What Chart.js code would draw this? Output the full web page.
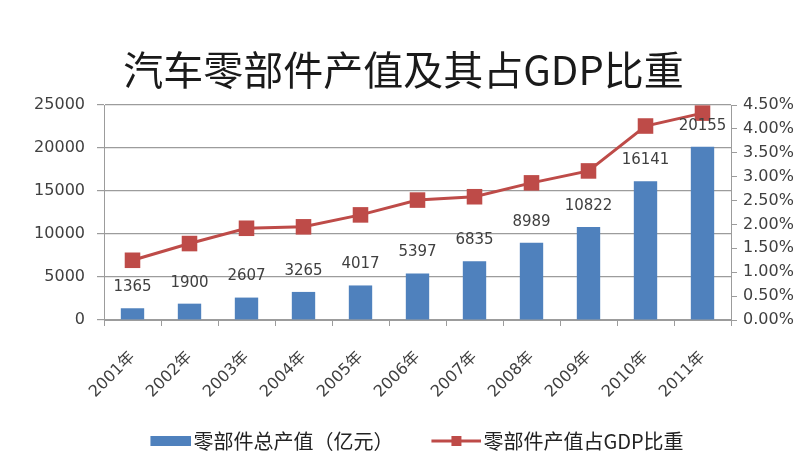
<!DOCTYPE html>
<html>
<head>
<meta charset="utf-8">
<script src="https://cdn.jsdelivr.net/npm/chart.js@4.4.1/dist/chart.umd.min.js"></script>
<style>
  html, body { margin: 0; padding: 0; background: #fff; }
  #wrap { width: 807px; height: 461px; }
</style>
</head>
<body>
<div id="wrap"><canvas id="chart" width="807" height="461"></canvas></div>
<script>
// data
var years = ['2001年', '2002年', '2003年', '2004年', '2005年', '2006年', '2007年', '2008年', '2009年', '2010年', '2011年'];
var output = [1365, 1900, 2607, 3265, 4017, 5397, 6835, 8989, 10822, 16141, 20155];
var gdpShare = [1.25, 1.60, 1.92, 1.95, 2.20, 2.51, 2.58, 2.87, 3.12, 4.06, 4.33];
var leftTicks = [0, 5000, 10000, 15000, 20000, 25000];
var rightTicks = [0, 0.5, 1, 1.5, 2, 2.5, 3, 3.5, 4, 4.5];

var barColor = '#4F81BD';
var lineColor = '#BE4B48';
var gridColor = '#9C9C9C';
var textColor = '#404040';
var numFont = 'DejaVu Sans, sans-serif';
var cjkFont = '"Noto Sans CJK SC", sans-serif';

// legend symbols as little canvases
function legendIcon(kind){
    var c = document.createElement('canvas');
    c.width = 76; c.height = 14;
    var g = c.getContext('2d');
    if(kind === 'bar'){
        g.fillStyle = barColor;
        g.fillRect(35, 2, 41, 10);
    }else{
        g.strokeStyle = lineColor;
        g.lineWidth = 3;
        g.beginPath(); g.moveTo(26, 7); g.lineTo(76, 7); g.stroke();
        g.fillStyle = lineColor;
        g.fillRect(46, 2, 10, 10);
    }
    return c;
}
var barIcon = legendIcon('bar');
var lineIcon = legendIcon('line');

var valueLabels = {
    id: 'valueLabels',
    afterDatasetsDraw: function(chart){
        var ctx = chart.ctx;
        var meta = chart.getDatasetMeta(0);
        ctx.save();
        ctx.font = '15px ' + numFont;
        ctx.fillStyle = textColor;
        ctx.textAlign = 'center';
        ctx.textBaseline = 'middle';
        meta.data.forEach(function(bar, i){
            ctx.fillText(String(output[i]), bar.x, bar.y - 21);
        });
        ctx.restore();
    }
};

var ctx = document.getElementById('chart').getContext('2d');
var myChart = new Chart(ctx, {
    type: 'bar',
    data: {
        labels: years,
        datasets: [
            {
                type: 'bar',
                label: '零部件总产值（亿元）',
                data: output,
                backgroundColor: barColor,
                barPercentage: 0.41,
                categoryPercentage: 1,
                yAxisID: 'y',
                order: 2
            },
            {
                type: 'line',
                label: '零部件产值占GDP比重',
                data: gdpShare,
                borderColor: lineColor,
                backgroundColor: lineColor,
                borderWidth: 3,
                pointStyle: 'rect',
                pointRadius: 11,
                pointBorderWidth: 0,
                tension: 0,
                yAxisID: 'y1',
                order: 1
            }
        ]
    },
    options: {
        responsive: false,
        animation: false,
        layout: { padding: { left: 0, right: 0, top: 0, bottom: 0 } },
        plugins: {
            title: {
                display: true,
                text: '汽车零部件产值及其占GDP比重',
                color: '#1a1a1a',
                font: { family: cjkFont, size: 40, weight: 'normal' },
                padding: { top: 46, bottom: 11 }
            },
            legend: {
                position: 'bottom',
                labels: {
                    usePointStyle: true,
                    pointStyleWidth: 60,
                    padding: 20,
                    color: '#222',
                    font: { family: cjkFont, size: 20 },
                    generateLabels: function(chart){
                        return chart.data.datasets.map(function(ds, i){
                            return {
                                text: ds.label,
                                datasetIndex: i,
                                pointStyle: i === 0 ? barIcon : lineIcon,
                                fillStyle: 'transparent',
                                strokeStyle: 'transparent',
                                lineWidth: 0,
                                hidden: false,
                                fontColor: '#222'
                            };
                        });
                    }
                }
            },
            tooltip: { enabled: false }
        },
        scales: {
            x: {
                afterFit: function(scale){ scale.height = 91; },
                grid: { offset: true, drawOnChartArea: false, tickLength: 6, color: gridColor },
                border: { color: gridColor, width: 1 },
                ticks: {
                    minRotation: 45, maxRotation: 45, padding: 22,
                    color: textColor,
                    font: { family: numFont + ', "Noto Sans CJK SC"', size: 16 }
                }
            },
            y: {
                position: 'left',
                min: 0, max: 25000,
                afterFit: function(scale){ scale.width = 104; },
                afterBuildTicks: function(scale){
                    scale.ticks = leftTicks.map(function(v){ return { value: v }; });
                },
                grid: { color: gridColor, lineWidth: 1.2, tickLength: 7 },
                border: { color: gridColor },
                ticks: {
                    padding: 12,
                    color: textColor,
                    font: { family: numFont, size: 16 },
                    callback: function(v){ return String(v); }
                }
            },
            y1: {
                position: 'right',
                min: 0, max: 4.5,
                afterFit: function(scale){ scale.width = 76; },
                afterBuildTicks: function(scale){
                    scale.ticks = rightTicks.map(function(v){ return { value: v }; });
                },
                grid: { drawOnChartArea: false, color: gridColor, tickLength: 6 },
                border: { color: gridColor },
                ticks: {
                    padding: 6,
                    color: textColor,
                    font: { family: numFont, size: 16 },
                    callback: function(v){ return v.toFixed(2) + '%'; }
                }
            }
        }
    },
    plugins: [valueLabels]
});
</script>
</body>
</html>
